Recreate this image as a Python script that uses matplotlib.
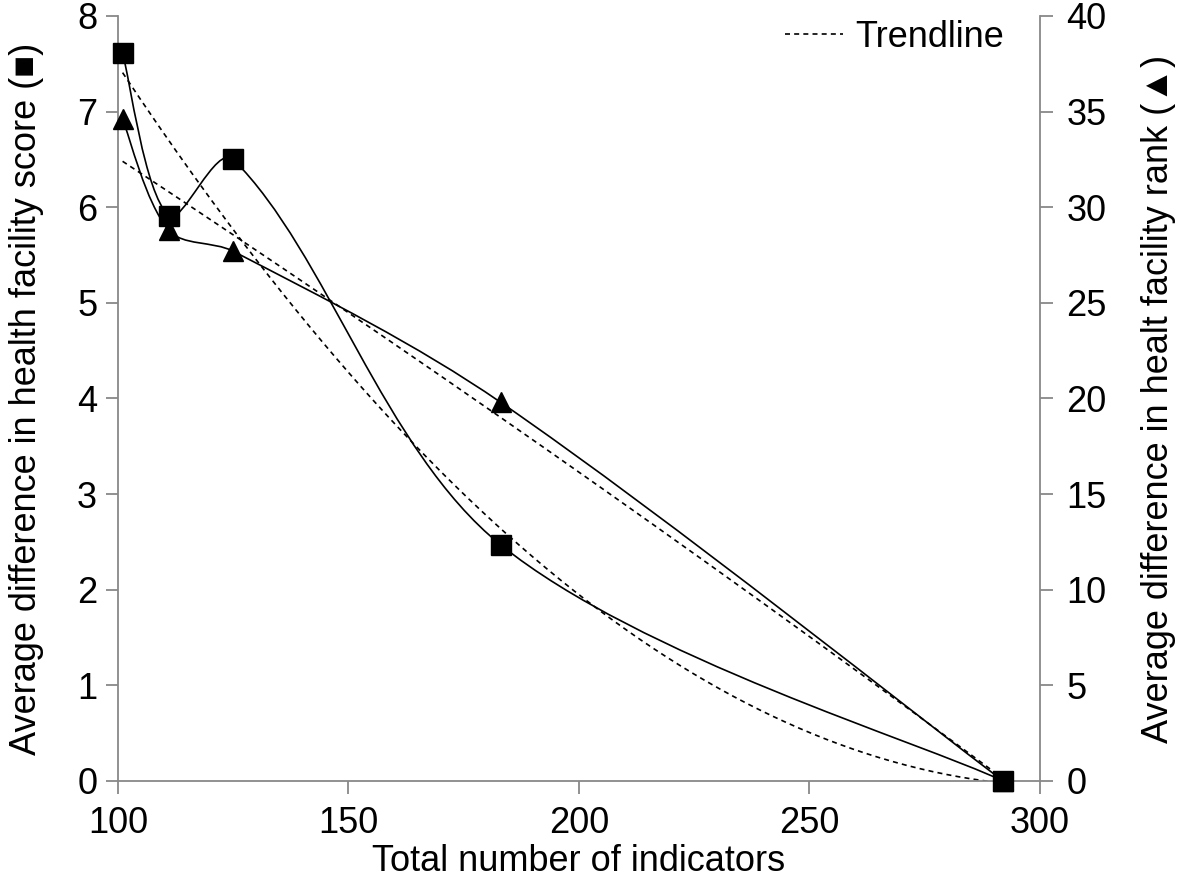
import numpy as np
import matplotlib
matplotlib.use("Agg")
import matplotlib.pyplot as plt
from matplotlib.path import Path
from matplotlib.patches import PathPatch
from matplotlib.lines import Line2D

plt.rcParams['font.family'] = ['Liberation Sans', 'DejaVu Sans']

# data
indicators = [101, 111, 125, 183, 292]
score_diff = [7.61, 5.91, 6.50, 2.47, 0.0]   # squares, left axis
rank_diff = [34.6, 28.8, 27.7, 19.8, 0.0]    # triangles, right axis

GREY = '#888888'
FS = 26


def smooth_line(ax, xs, ys):
    # smoothed line like a spreadsheet chart: bezier segments, tangents
    # scaled by the neighbouring segment lengths in screen space
    pts = ax.transData.transform(np.column_stack([xs, ys]))
    n = len(pts)
    verts = [pts[0]]
    codes = [Path.MOVETO]

    def tangent(i, seg_len):
        p_prev = pts[max(i - 1, 0)]
        p_next = pts[min(i + 1, n - 1)]
        d_a = np.hypot(*(pts[i] - p_prev))
        d_b = np.hypot(*(p_next - pts[i]))
        tot = d_a + d_b
        if tot == 0:
            return np.zeros(2)
        if i == 0 or i == n - 1:
            return (p_next - p_prev) / 6.0 * 2
        return (p_next - p_prev) * seg_len / tot / 3.0

    for i in range(n - 1):
        seg = np.hypot(*(pts[i + 1] - pts[i]))
        c1 = pts[i] + tangent(i, seg) * (0.5 if i == 0 else 1)
        c2 = pts[i + 1] - tangent(i + 1, seg) * (0.5 if i + 1 == n - 1 else 1)
        verts += [c1, c2, pts[i + 1]]
        codes += [Path.CURVE4] * 3
    path = Path(ax.transData.inverted().transform(np.array(verts)), codes)
    ax.add_patch(PathPatch(path, fill=False, edgecolor='black', lw=1.2,
                           zorder=3))


def trend(ax, xs, ys):
    coef = np.polyfit(xs, ys, 2)
    xx = np.linspace(min(xs), max(xs), 200)
    ax.plot(xx, np.polyval(coef, xx), color='black', lw=1.2,
            ls=(0, (3, 2.5)), zorder=2)


fig = plt.figure(figsize=(11.81, 8.88), dpi=100)
ax = fig.add_axes([0.0999, 0.1205, 0.7807, 0.8615])
ax2 = ax.twinx()

ax.set_xlim(100, 300)
ax.set_ylim(0, 8)
ax2.set_ylim(0, 40)
ax.set_xticks([100, 150, 200, 250, 300])
ax.set_yticks(range(0, 9))
ax2.set_yticks(range(0, 41, 5))

# squares
smooth_line(ax, indicators, score_diff)
trend(ax, indicators, score_diff)
ax.plot(indicators, score_diff, ls='none', marker='s', ms=14,
        color='black', zorder=5, clip_on=False)

# triangles
smooth_line(ax2, indicators, rank_diff)
trend(ax2, indicators, rank_diff)
ax2.plot(indicators, rank_diff, ls='none', marker='^', ms=15,
         color='black', zorder=5, clip_on=False)

ax.set_xlim(100, 300)
ax.set_ylim(0, 8)
ax2.set_ylim(0, 40)

for a in (ax, ax2):
    a.spines['top'].set_visible(False)
    for s in a.spines.values():
        s.set_color(GREY)
        s.set_linewidth(1.3)
    a.tick_params(direction='out', length=9, width=1.3, color=GREY,
                  labelsize=FS, pad=6)
ax.tick_params(axis='x', pad=9)
ax2.tick_params(axis='y', pad=10)
ax.spines['right'].set_visible(False)
ax2.spines['left'].set_visible(False)
ax2.spines['bottom'].set_visible(False)

ax.set_xlabel('Total number of indicators', fontsize=FS, labelpad=2)
ax.set_ylabel('Average difference in health facility score (\u25a0)',
              fontsize=FS, labelpad=24)
ax2.set_ylabel('Average difference in healt facility rank (\u25b2)',
               fontsize=FS, labelpad=25)

handle = Line2D([], [], color='black', lw=1.2, ls=(0, (3, 2.5)))
ax2.legend([handle], ['Trendline'], loc='upper right', frameon=False,
           fontsize=FS, handlelength=1.6, handletextpad=0.35,
           borderaxespad=0.1, bbox_to_anchor=(0.981, 1.019))

fig.savefig('out.png', dpi=100)
